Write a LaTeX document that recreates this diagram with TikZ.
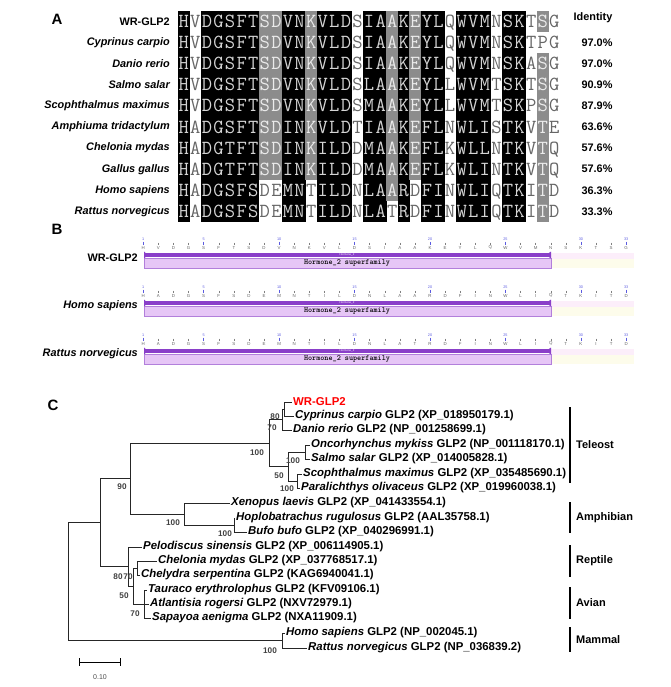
\documentclass[tikz,border=0pt]{standalone}
\usepackage{fontspec}
\setmainfont{Liberation Sans}
\usetikzlibrary{positioning}

\definecolor{shadegray}{HTML}{8C8C8C}
\definecolor{dompurple}{HTML}{8A3FC9}
\definecolor{famfill}{HTML}{E6C6F6}
\definecolor{famline}{HTML}{B27FDB}
\definecolor{tailpink}{HTML}{FCEEFA}
\definecolor{tailcream}{HTML}{FDFCEB}
\definecolor{tickblue}{HTML}{5B5BE0}

\tikzset{
  panel/.style={inner sep=0pt,font=\bfseries\fontsize{15}{15}\selectfont},
  spname/.style={anchor=east,inner sep=0pt,font=\bfseries\itshape\fontsize{10.9}{12}\selectfont},
  pct/.style={inner sep=0pt,font=\bfseries\fontsize{10.9}{12}\selectfont},
  cell/.style={inner sep=0pt,minimum width=11.9pt,minimum height=21.5pt,
    text height=12.2pt,text depth=0pt,font=\ttfamily\fontsize{20}{20}\selectfont},
  cellb/.style={cell,fill=black,text=black!17},
  cellg/.style={cell,fill=shadegray,text=black!8},
  cellw/.style={cell,text=black!60},
  trklabel/.style={anchor=east,inner sep=0pt,font=\bfseries\fontsize{10.9}{12}\selectfont},
  res/.style={inner sep=0pt,font=\fontsize{4.4}{5}\selectfont,text=black!60},
  resnum/.style={inner sep=0pt,font=\fontsize{3.8}{4}\selectfont,text=tickblue},
  famtext/.style={inner sep=0pt,font=\ttfamily\bfseries\fontsize{7.8}{8}\selectfont},
  domtext/.style={inner sep=0pt,font=\fontsize{2.8}{3}\selectfont,text=white},
  leaf/.style={anchor=west,inner sep=1pt,font=\bfseries\fontsize{11.4}{13}\selectfont},
  branch/.style={line width=1pt,black!85},
  boot/.style={inner sep=0pt,font=\bfseries\fontsize{8.2}{9}\selectfont,text=black!75},
  cladebar/.style={line width=1.2pt},
  clade/.style={anchor=west,inner sep=0pt,font=\bfseries\fontsize{11}{12}\selectfont},
}

% one row of the alignment: row number, species, residue/shade pairs
\newcommand\alnrow[3]{%
  \node[spname] (sp#1) at (170,{21.5+21.1*(#1-1)}) {#2};
  \foreach \a/\s [count=\i] in {#3}
    \node[cell\s] (a#1c\i) at ({178+11.58*(\i-0.5)},{21.5+21.1*(#1-1)}) {\a};
}

% one domain track: id, y of the domain bar, label, residues
\newcommand\domtrack[4]{%
  \node[trklabel] (#1name) at (138,#2+3) {#3};
  \fill[tailpink] (551,#2-2.5) rectangle (634,#2+3.5);
  \fill[tailcream] (551,#2+3.5) rectangle (634,#2+13);
  \filldraw[fill=famfill,draw=famline,line width=0.5pt] (144,#2+3.5) rectangle (551,#2+13);
  \fill[dompurple] (144,#2-2) rectangle (551,#2+2);
  \fill[dompurple] (144,#2-3.5) -- (148,#2) -- (144,#2+3.5) -- cycle;
  \fill[dompurple] (551,#2-3.5) -- (546,#2) -- (551,#2+3.5) -- cycle;
  \node[domtext] (#1dom) at (347,#2) {Hormone\_2};
  \node[famtext] (#1fam) at (347,#2+8.3) {Hormone\_2 superfamily};
  \foreach \a [count=\i] in {#4} {
    \node[res] (#1r\i) at ({143.3+15.09*(\i-1)},#2-7.5) {\a};
    \draw[black!50,line width=0.35pt] ({143.3+15.09*(\i-1)},#2-12.5) -- ++(0,2.5);
  }
  \foreach \n in {1,5,10,15,20,25,30,33} {
    \draw[tickblue,line width=0.45pt] ({143.3+15.09*(\n-1)},#2-13.5) -- ++(0,3.5);
    \node[resnum] (#1n\n) at ({143.3+15.09*(\n-1)},#2-16) {\n};
  }
}

\begin{document}
\begin{tikzpicture}[x=1pt,y=-1pt]
\useasboundingbox (0,0) rectangle (670,687);

% A: alignment
\node[panel] (pA) at (57,19) {A};
\alnrow{1}{\upshape WR-GLP2}{H/b,V/w,D/b,G/b,S/b,F/b,T/b,S/g,D/g,V/b,N/b,K/g,V/b,L/b,D/b,S/w,I/b,A/b,A/g,K/b,E/g,Y/b,L/b,Q/w,W/b,V/b,M/b,N/w,S/b,K/b,T/w,S/g,G/w}
\alnrow{2}{Cyprinus carpio}{H/b,V/w,D/b,G/b,S/b,F/b,T/b,S/g,D/g,V/b,N/b,K/g,V/b,L/b,D/b,S/w,I/b,A/b,A/g,K/b,E/g,Y/b,L/b,Q/w,W/b,V/b,M/b,N/w,S/b,K/b,T/w,P/w,G/w}
\alnrow{3}{Danio rerio}{H/b,V/w,D/b,G/b,S/b,F/b,T/b,S/g,D/g,V/b,N/b,K/g,V/b,L/b,D/b,S/w,I/b,A/b,A/g,K/b,E/g,Y/b,L/b,Q/w,W/b,V/b,M/b,N/w,S/b,K/b,A/w,S/g,G/w}
\alnrow{4}{Salmo salar}{H/b,V/w,D/b,G/b,S/b,F/b,T/b,S/g,D/g,V/b,N/b,K/g,V/b,L/b,D/b,S/w,L/b,A/b,A/g,K/b,E/g,Y/b,L/b,L/w,W/b,V/b,M/b,T/w,S/b,K/b,T/w,S/g,G/w}
\alnrow{5}{Scophthalmus maximus}{H/b,V/w,D/b,G/b,S/b,F/b,T/b,S/g,D/g,V/b,N/b,K/g,V/b,L/b,D/b,S/w,M/b,A/b,A/g,K/b,E/g,Y/b,L/b,L/w,W/b,V/b,M/b,T/w,S/b,K/b,P/w,S/g,G/w}
\alnrow{6}{Amphiuma tridactylum}{H/b,A/w,D/b,G/b,S/b,F/b,T/b,S/g,D/g,I/b,N/b,K/g,V/b,L/b,D/b,T/w,I/b,A/b,A/g,K/b,E/g,F/b,L/b,N/w,W/b,L/b,I/b,S/w,T/b,K/b,V/w,T/g,E/w}
\alnrow{7}{Chelonia mydas}{H/b,A/w,D/b,G/b,T/b,F/b,T/b,S/g,D/g,I/b,N/b,K/g,I/b,L/b,D/b,D/w,M/b,A/b,A/g,K/b,E/g,F/b,L/b,K/w,W/b,L/b,L/b,N/w,T/b,K/b,V/w,T/g,Q/w}
\alnrow{8}{Gallus gallus}{H/b,A/w,D/b,G/b,T/b,F/b,T/b,S/g,D/g,I/b,N/b,K/g,I/b,L/b,D/b,D/w,M/b,A/b,A/g,K/b,E/g,F/b,L/b,K/w,W/b,L/b,I/b,N/w,T/b,K/b,V/w,T/g,Q/w}
\alnrow{9}{Homo sapiens}{H/b,A/w,D/b,G/b,S/b,F/b,S/b,D/w,E/w,M/b,N/b,T/w,I/b,L/b,D/b,N/w,L/b,A/b,A/g,R/b,D/w,F/b,I/b,N/w,W/b,L/b,I/b,Q/w,T/b,K/b,I/w,T/g,D/w}
\alnrow{10}{Rattus norvegicus}{H/b,A/w,D/b,G/b,S/b,F/b,S/b,D/w,E/w,M/b,N/b,T/w,I/b,L/b,D/b,N/w,L/b,A/b,T/w,R/b,D/w,F/b,I/b,N/w,W/b,L/b,I/b,Q/w,T/b,K/b,I/w,T/g,D/w}
\node[pct] (idhead) at (593,18) {Identity};
\foreach \p [count=\r from 2] in {97.0,97.0,90.9,87.9,63.6,57.6,57.6,36.3,33.3}
  \node[pct] (id\r) at (597,{21.5+21.1*(\r-1)}) {\p\%};

% B: conserved domains
\node[panel] (pB) at (57,229) {B};
\domtrack{wr}{255}{WR-GLP2}{H,V,D,G,S,F,T,S,D,V,N,K,V,L,D,S,I,A,A,K,E,Y,L,Q,W,V,M,N,S,K,T,S,G}
\domtrack{hs}{303}{\itshape Homo sapiens}{H,A,D,G,S,F,S,D,E,M,N,T,I,L,D,N,L,A,A,R,D,F,I,N,W,L,I,Q,T,K,I,T,D}
\domtrack{rn}{351}{\itshape Rattus norvegicus}{H,A,D,G,S,F,S,D,E,M,N,T,I,L,D,N,L,A,T,R,D,F,I,N,W,L,I,Q,T,K,I,T,D}

% C: tree
\node[panel] (pC) at (53,405) {C};
\node[leaf,text=red] (wr) at (292,402) {WR-GLP2};
\node[leaf] (cyp) at (294,416) {\textit{Cyprinus carpio} GLP2 (XP\_018950179.1)};
\node[leaf] (dre) at (292,430) {\textit{Danio rerio} GLP2 (NP\_001258699.1)};
\node[leaf] (omy) at (310,445) {\textit{Oncorhynchus mykiss} GLP2 (NP\_001118170.1)};
\node[leaf] (ssa) at (310,459) {\textit{Salmo salar} GLP2 (XP\_014005828.1)};
\node[leaf] (sma) at (302,474) {\textit{Scophthalmus maximus} GLP2 (XP\_035485690.1)};
\node[leaf] (pol) at (300,488) {\textit{Paralichthys olivaceus} GLP2 (XP\_019960038.1)};
\node[leaf] (xla) at (230,503) {\textit{Xenopus laevis} GLP2 (XP\_041433554.1)};
\node[leaf] (hru) at (235,518) {\textit{Hoplobatrachus rugulosus} GLP2 (AAL35758.1)};
\node[leaf] (bbu) at (247,532) {\textit{Bufo bufo} GLP2 (XP\_040296991.1)};
\node[leaf] (psi) at (142,547) {\textit{Pelodiscus sinensis} GLP2 (XP\_006114905.1)};
\node[leaf] (cmy) at (157,561) {\textit{Chelonia mydas} GLP2 (XP\_037768517.1)};
\node[leaf] (cse) at (140,575) {\textit{Chelydra serpentina} GLP2 (KAG6940041.1)};
\node[leaf] (ery) at (147,590) {\textit{Tauraco erythrolophus} GLP2 (KFV09106.1)};
\node[leaf] (aro) at (149,604) {\textit{Atlantisia rogersi} GLP2 (NXV72979.1)};
\node[leaf] (sae) at (151,618) {\textit{Sapayoa aenigma} GLP2 (NXA11909.1)};
\node[leaf] (hsa) at (285,633) {\textit{Homo sapiens} GLP2 (NP\_002045.1)};
\node[leaf] (rno) at (307,648) {\textit{Rattus norvegicus} GLP2 (NP\_036839.2)};

\coordinate (n1) at (284,409);
\coordinate (n2) at (282,419.5);
\coordinate (n5) at (305,452);
\coordinate (n6) at (297,481);
\coordinate (n4) at (288,466.5);
\coordinate (n3) at (269.5,443);
\coordinate (n7) at (234,525);
\coordinate (n8) at (184,514);
\coordinate (n9) at (130,478.5);
\coordinate (n10) at (137,568);
\coordinate (n11) at (144,604);
\coordinate (n12) at (133,586);
\coordinate (n13) at (128,566.5);
\coordinate (n14) at (100,522.5);
\coordinate (n15) at (282,640.5);
\coordinate (root) at (68,581.5);

\foreach \p/\c in {n1/wr.west,n1/cyp.west,n2/n1,n2/dre.west,n3/n2,n3/n4,
    n4/n5,n4/n6,n5/omy.west,n5/ssa.west,n6/sma.west,n6/pol.west,
    n9/n3,n9/n8,n8/xla.west,n8/n7,n7/hru.west,n7/bbu.west,
    n14/n9,n14/n13,n13/psi.west,n13/n12,n12/n10,n12/n11,
    n10/cmy.west,n10/cse.west,n11/ery.west,n11/aro.west,n11/sae.west,
    root/n14,root/n15,n15/hsa.west,n15/rno.west}
  \draw[branch] (\p) |- (\c);

% bootstrap values
\node[boot] (b1) at (275,417) {80};
\node[boot] (b2) at (272,428) {70};
\node[boot] (b3) at (257,453) {100};
\node[boot] (b4) at (293,461) {100};
\node[boot] (b5) at (279,476) {50};
\node[boot] (b6) at (287,489) {100};
\node[boot] (b7) at (122,487) {90};
\node[boot] (b8) at (173,523) {100};
\node[boot] (b9) at (225,534) {100};
\node[boot] (b10) at (118,577) {80};
\node[boot] (b11) at (128,577) {70};
\node[boot] (b12) at (124,596) {50};
\node[boot] (b13) at (135,614) {70};
\node[boot] (b14) at (270,651) {100};

% clade bars
\foreach \k/\ya/\yb/\t in {tel/407/483/Teleost,amp/502/533/Amphibian,rep/545/577/Reptile,
    avi/587/619/Avian,mam/627/652/Mammal} {
  \coordinate (\k1) at (570,\ya);
  \coordinate (\k2) at (570,\yb);
  \draw[cladebar] (\k1) -- (\k2);
  \node[clade] (\k) at (576,{(\ya+\yb)/2}) {\t};
}

% scale bar
\coordinate (sb1) at (79,662);
\coordinate (sb2) at (121,662);
\draw[line width=0.8pt,|-|] (sb1) -- (sb2);
\node[inner sep=0pt,font=\fontsize{7}{8}\selectfont,text=black!70] (sbtxt) at (100,677) {0.10};
\end{tikzpicture}
\end{document}
